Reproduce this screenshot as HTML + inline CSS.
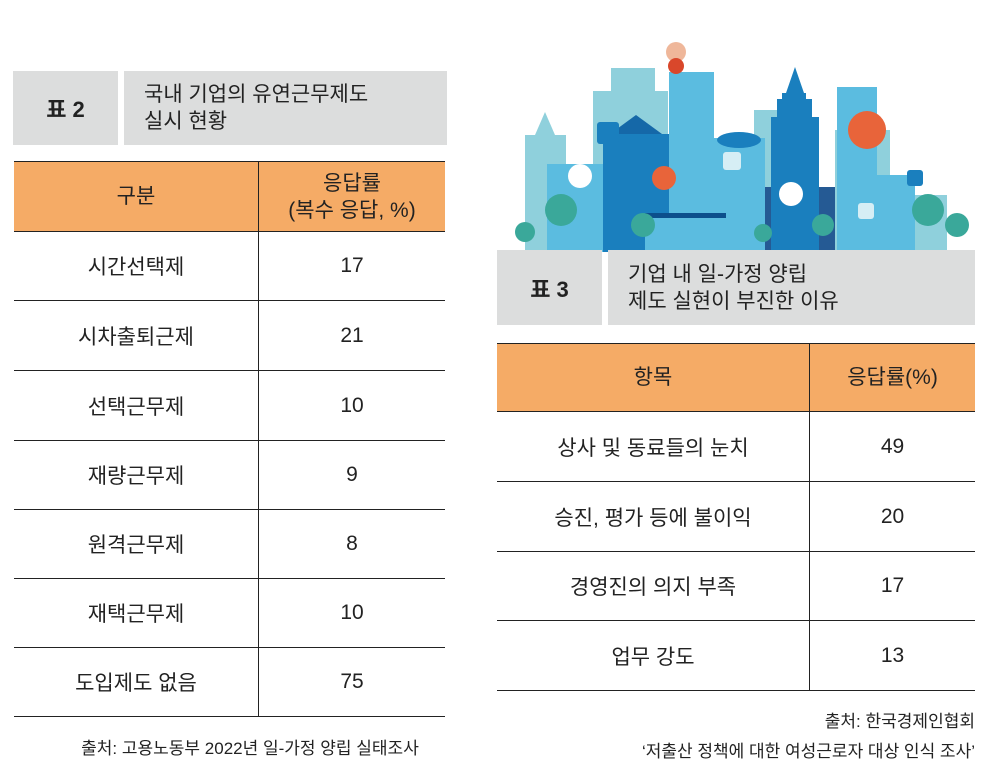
<!DOCTYPE html>
<html><head><meta charset="utf-8"><style>
body{margin:0;width:998px;height:778px;background:#fff;position:relative;overflow:hidden;font-family:"Liberation Sans","Noto Sans CJK KR",sans-serif;color:#222}
.abs{position:absolute}
.lab{background:#dcdddd;display:flex;align-items:center;justify-content:center;font-weight:bold;font-size:22px}
.ttl{background:#dcdddd;font-size:21px;line-height:27px;padding-left:20px;box-sizing:border-box;display:flex;align-items:center}
table{position:absolute;border-collapse:collapse;font-size:21px}
td{border-top:1.5px solid #222;border-bottom:1.5px solid #222;text-align:center;padding:0}
td+td{border-left:1.5px solid #222}
tr.h td{background:#f5ab66;line-height:27px}
.src{font-size:17px;position:absolute}
</style></head><body>
<svg class="abs" style="left:0;top:0" width="998" height="252">
<rect x="525" y="135" width="41" height="117" fill="#8fd0dc"/><polygon points="535,135 545,112 555,135" fill="#8fd0dc"/>
<rect x="593" y="91" width="75" height="161" fill="#8fd0dc"/><rect x="611" y="68" width="44" height="25" fill="#8fd0dc"/>
<rect x="754" y="110" width="30" height="142" fill="#8fd0dc"/>
<rect x="835" y="130" width="55" height="122" fill="#8fd0dc"/><rect x="890" y="195" width="57" height="57" fill="#8fd0dc"/>
<rect x="547" y="164" width="59" height="88" fill="#5bbce0"/>
<rect x="603" y="134" width="68" height="118" fill="#1a7fbe"/><polygon points="610,134 636,115 662,134" fill="#1568a8"/>
<rect x="669" y="72" width="45" height="180" fill="#5bbce0"/>
<rect x="713" y="138" width="52" height="114" fill="#5bbce0"/><ellipse cx="739" cy="140" rx="22" ry="8" fill="#1a7fbe"/>
<rect x="765" y="187" width="70" height="65" fill="#255a94"/>
<rect x="771" y="117" width="48" height="135" fill="#1a7fbe"/><rect x="777" y="99" width="35" height="19" fill="#1a7fbe"/><rect x="782" y="93" width="24" height="7" fill="#1a7fbe"/><polygon points="786,93 795,67 804,93" fill="#1a7fbe"/>
<rect x="837" y="87" width="40" height="165" fill="#5bbce0"/>
<rect x="877" y="175" width="38" height="77" fill="#5bbce0"/>
<rect x="645" y="213" width="81" height="39" fill="#5bbce0"/><rect x="645" y="213" width="81" height="5" fill="#0c4f8c"/>
<g fill="#3aa89a"><circle cx="525" cy="232" r="10"/><circle cx="561" cy="210" r="16"/><circle cx="643" cy="225" r="12"/><circle cx="763" cy="233" r="9"/><circle cx="823" cy="225" r="11"/><circle cx="928" cy="210" r="16"/><circle cx="957" cy="225" r="12"/></g>
<circle cx="676" cy="52" r="10" fill="#efb79a"/><circle cx="676" cy="66" r="8" fill="#d9472b"/>
<circle cx="580" cy="176" r="12" fill="#fff"/><circle cx="664" cy="178" r="12" fill="#e8643a"/><circle cx="867" cy="130" r="19" fill="#e8643a"/><circle cx="791" cy="194" r="12" fill="#fff"/>
<rect x="597" y="122" width="22" height="22" rx="3" fill="#1a7fbe"/><rect x="907" y="170" width="16" height="16" rx="3" fill="#1a7fbe"/>
<rect x="723" y="152" width="18" height="18" rx="3" fill="#d6eef5"/><rect x="858" y="203" width="16" height="16" rx="3" fill="#d6eef5"/>
</svg>
<div class="abs lab" style="left:13px;top:71px;width:105px;height:74px">표 2</div>
<div class="abs ttl" style="left:124px;top:71px;width:323px;height:74px">국내 기업의 유연근무제도<br>실시 현황</div>
<table style="left:14px;top:161px;width:431px">
<tr class="h" style="height:70px"><td style="width:244px">구분</td><td>응답률<br>(복수 응답, %)</td></tr>
<tr style="height:69px"><td>시간선택제</td><td>17</td></tr>
<tr style="height:70px"><td>시차출퇴근제</td><td>21</td></tr>
<tr style="height:70px"><td>선택근무제</td><td>10</td></tr>
<tr style="height:69px"><td>재량근무제</td><td>9</td></tr>
<tr style="height:69px"><td>원격근무제</td><td>8</td></tr>
<tr style="height:69px"><td>재택근무제</td><td>10</td></tr>
<tr style="height:69px"><td>도입제도 없음</td><td>75</td></tr>
</table>
<div class="src" style="left:40px;top:734px;width:420px;text-align:center">출처: 고용노동부 2022년 일-가정 양립 실태조사</div>
<div class="abs lab" style="left:497px;top:250px;width:105px;height:75px">표 3</div>
<div class="abs ttl" style="left:608px;top:250px;width:367px;height:75px">기업 내 일-가정 양립<br>제도 실현이 부진한 이유</div>
<table style="left:497px;top:343px;width:478px">
<tr class="h" style="height:68px"><td style="width:312px">항목</td><td>응답률(%)</td></tr>
<tr style="height:70px"><td>상사 및 동료들의 눈치</td><td>49</td></tr>
<tr style="height:70px"><td>승진, 평가 등에 불이익</td><td>20</td></tr>
<tr style="height:69px"><td>경영진의 의지 부족</td><td>17</td></tr>
<tr style="height:70px"><td>업무 강도</td><td>13</td></tr>
</table>
<div class="src" style="right:23px;top:707px;text-align:right;line-height:30px">출처: 한국경제인협회<br>‘저출산 정책에 대한 여성근로자 대상 인식 조사’</div>
</body></html>
